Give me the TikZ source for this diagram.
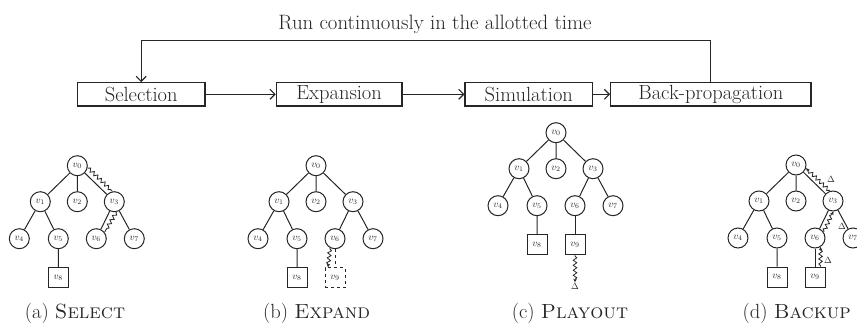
\documentclass[tikz,border=0pt]{standalone}
\usetikzlibrary{arrows.meta,decorations.pathmorphing,calc}
\newcommand{\mctstree}[3]{%
  \node[tn] (#1n0) at (#2,#3) {$v_0$};
  \node[tn] (#1n1) at (#2-37,#3+36) {$v_1$};
  \node[tn] (#1n2) at (#2,#3+36) {$v_2$};
  \node[tn] (#1n3) at (#2+37,#3+36) {$v_3$};
  \node[tn] (#1n4) at (#2-58,#3+73) {$v_4$};
  \node[tn] (#1n5) at (#2-19,#3+73) {$v_5$};
  \node[tn] (#1n6) at (#2+19,#3+73) {$v_6$};
  \node[tn] (#1n7) at (#2+57,#3+73) {$v_7$};
  \node[tl] (#1n8) at (#2-19,#3+112) {$v_8$};
  \draw[edge] (#1n0)--(#1n1) (#1n0)--(#1n2) (#1n0)--(#1n3)
              (#1n1)--(#1n4) (#1n1)--(#1n5) (#1n3)--(#1n6) (#1n3)--(#1n7)
              (#1n5)--(#1n8);
}
\begin{document}
\begin{tikzpicture}[x=1pt,y=-1pt,
  every node/.style={text=black!85},
  stage/.style={draw=black!85, line width=1.2pt, minimum height=23.3pt, inner sep=0pt,
                font=\fontsize{20.5}{23}\selectfont},
  flow/.style={draw=black!85, line width=1.1pt,
               -{Straight Barb[length=5pt,width=10pt,line width=1.1pt]}},
  tn/.style={circle, draw=black!85, line width=1pt, minimum size=20pt, inner sep=0pt,
             font=\fontsize{10}{12}\selectfont},
  tl/.style={rectangle, draw=black!85, line width=1pt, minimum size=20pt, inner sep=0pt,
             font=\fontsize{10}{12}\selectfont},
  edge/.style={draw=black!85, line width=1pt},
  squig/.style={draw=black!85, line width=0.8pt, decorate,
                decoration={snake, amplitude=1.8pt, segment length=5pt,
                            pre length=1pt, post length=2.5pt}},
  sqarrow/.style={squig, -{Stealth[length=3.5pt,width=3.5pt]}},
  dlab/.style={inner sep=0.5pt, font=\fontsize{9}{10}\selectfont},
  capt/.style={font=\fontsize{20.5}{23}\selectfont}
]
\useasboundingbox (0,0) rectangle (857,322);

% ---- top flow ----
\node[font=\fontsize{20.8}{24}\selectfont] (title) at (435,24) {Run continuously in the allotted time};
\node[stage, minimum width=127.7pt] (sel) at (141.2,94.3) {Selection};
\node[stage, minimum width=125.6pt] (exp) at (339.1,94.3) {Expansion};
\node[stage, minimum width=127.5pt] (sim) at (528.8,94.3) {Simulation};
\node[stage, minimum width=200.2pt] (bp)  at (710.8,94.3) {Back-propagation};
\coordinate (loop) at (0,40.7);
\draw[flow] (sel) -- (exp);
\draw[flow] (exp) -- (sim);
\draw[flow] (sim) -- (bp);
\draw[flow] (bp.north) -- (bp.north |- loop) -| (sel.north);

% ---- (a) select ----
\mctstree{a}{77.3}{165.7}
\draw[squig] (an0.-10) -- (an3.100);
\draw[squig] (an3.-78) -- (an6.38);
\node[capt] (capa) at (75,313) {(a) \textsc{Select}};

% ---- (b) expand ----
\mctstree{b}{316}{165.7}
\node[tl, dashed] (bn9) at (335,277.7) {$v_9$};
\draw[edge, dashed] (bn6) -- (bn9);
\draw[sqarrow] (bn6.-118) -- ([xshift=-7pt]bn9.north);
\node[capt] (capb) at (316.7,313) {(b) \textsc{Expand}};

% ---- (c) playout ----
\mctstree{c}{556}{132.7}
\node[tl] (cn9) at (575,244.7) {$v_9$};
\draw[edge] (cn6) -- (cn9);
\node[dlab] (cdel) at (575,286) {$\Delta$};
\draw[sqarrow] (cn9.south) -- (cdel.north);
\node[capt] (capc) at (570,313) {(c) \textsc{Playout}};

% ---- (d) backup ----
\mctstree{d}{796}{165}
\node[tl] (dn9) at (815,277) {$v_9$};
\draw[edge] (dn6) -- (dn9);
\draw[sqarrow] (dn3.108) -- (dn0.-18);
\draw[sqarrow] (dn6.35) -- (dn3.-88);
\draw[sqarrow] ([xshift=5.5pt]dn9.north) -- (dn6.-58);
\node[dlab] (dd1) at (831,179) {$\Delta$};
\node[dlab] (dd2) at (842,226) {$\Delta$};
\node[dlab] (dd3) at (828,260) {$\Delta$};
\node[capt] (capd) at (796.7,313) {(d) \textsc{Backup}};
\end{tikzpicture}
\end{document}
